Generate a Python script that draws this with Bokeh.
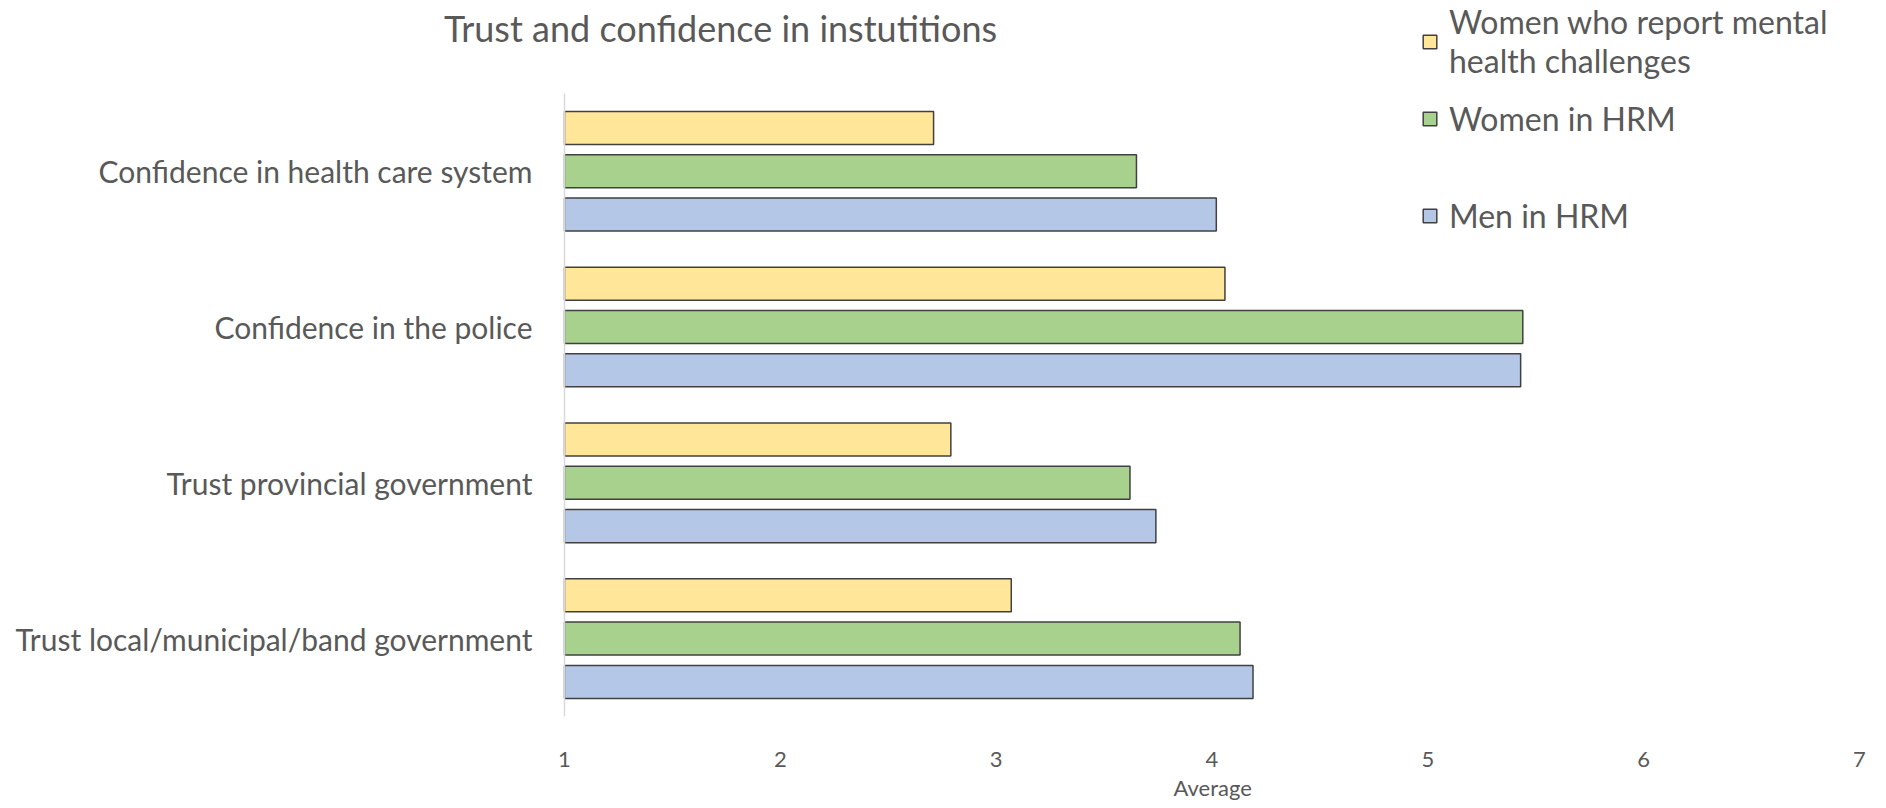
from bokeh.plotting import figure
from bokeh.models import ColumnDataSource, Legend, LegendItem, Label, Range1d, FixedTicker, Title
from bokeh.transform import dodge
from bokeh.embed import file_html
from bokeh.resources import INLINE

# ---- data ----
categories = ["Confidence in health care system", "Confidence in the police",
              "Trust provincial government", "Trust local/municipal/band government"]
women_mental_health = [2.71, 4.06, 2.79, 3.07]
women_hrm = [3.65, 5.44, 3.62, 4.13]
men_hrm = [4.02, 5.43, 3.74, 4.19]
series_labels = ["Women who report mental\nhealth challenges", "Women in HRM", "Men in HRM"]
x_ticks = [1, 2, 3, 4, 5, 6, 7]
title_text = "Trust and confidence in instutitions"
x_label = "Average"

FONT = "Lato"
TXT = "#595959"

n = len(categories)
pos = [n - i - 0.5 for i in range(n)]          # first category at the top
src = ColumnDataSource(dict(cat=categories, pos=pos, wmh=women_mental_health,
                            whrm=women_hrm, mhrm=men_hrm))

# layout (pixels): axis value 1 sits at x=564, value 7 at x=1859
W, H = 1886, 808
AX_LEFT, AX_RIGHT = 564, 1859
x_lo, x_hi = x_ticks[0], x_ticks[-1]
px_per_unit = (AX_RIGHT - AX_LEFT) / (x_hi - x_lo)
x0 = x_lo - AX_LEFT / px_per_unit

p = figure(x_range=Range1d(x0, x_hi), y_range=Range1d(0, 4.596),
           width=W, height=H, output_backend="svg", toolbar_location=None,
           min_border_left=0, min_border_right=W - AX_RIGHT, min_border_top=0, min_border_bottom=92)
p.outline_line_color = None
p.xgrid.grid_line_color = None
p.ygrid.grid_line_color = None

colors = ["#FFE699", "#A9D18E", "#B4C7E7"]
fields = ["wmh", "whrm", "mhrm"]
offsets = [0.278, 0.0, -0.278]
renderers = []
for f, c, off in zip(fields, colors, offsets):
    r = p.hbar(y=dodge("pos", off), left=x_lo, right=f, height=0.212,
               source=src, fill_color=c, line_color="#404040", line_width=1.5)
    renderers.append(r)

# x axis
p.xaxis.ticker = FixedTicker(ticks=x_ticks)
p.xaxis.bounds = (x_lo, x_hi)
p.xaxis.axis_line_color = None
p.xaxis.major_tick_line_color = None
p.xaxis.minor_tick_line_color = None
p.xaxis.major_label_standoff = 29
p.xaxis.major_label_text_font = FONT
p.xaxis.major_label_text_font_size = "22px"
p.xaxis.major_label_text_color = TXT

# axis title, centred under the value axis (1..7); text is ~77px wide
label_w = 77
p.add_layout(Title(text=x_label, align="left", offset=(AX_LEFT + AX_RIGHT) / 2 - label_w / 2,
                   text_font=FONT, text_font_size="22px", text_font_style="normal",
                   text_color=TXT, standoff=4), "below")

# y axis (categories), drawn at x = 1
p.yaxis.fixed_location = x_lo
p.yaxis.ticker = FixedTicker(ticks=pos)
p.yaxis.major_label_overrides = {pv: c for pv, c in zip(pos, categories)}
p.yaxis.bounds = (0, n)
p.yaxis.axis_line_color = "#d9d9d9"
p.yaxis.axis_line_width = 1.5
p.yaxis.major_tick_line_color = None
p.yaxis.minor_tick_line_color = None
p.yaxis.major_label_standoff = 26
p.yaxis.major_label_text_font = FONT
p.yaxis.major_label_text_font_size = "30px"
p.yaxis.major_label_text_color = TXT

# legends (two blocks to mimic the uneven spacing of the original)
LEG_X = 1421
leg_kw = dict(orientation="vertical", label_text_font=FONT, label_text_font_size="32px",
              label_text_color=TXT, label_text_line_height=1.3,
              glyph_width=17, glyph_height=17, label_standoff=11,
              padding=0, margin=0, border_line_color=None, background_fill_alpha=0)
legend_a = Legend(items=[LegendItem(label=series_labels[0], renderers=[renderers[0]])],
                  location=(LEG_X, 636), spacing=0, **leg_kw)
legend_b = Legend(items=[LegendItem(label=lbl, renderers=[r])
                         for lbl, r in zip(series_labels[1:], renderers[1:])],
                  location=(LEG_X, 481), spacing=58, **leg_kw)
p.add_layout(legend_a, "center")
p.add_layout(legend_b, "center")

# chart title
p.add_layout(Label(x=x_lo + (720 - AX_LEFT) / px_per_unit,
                   y=4.596 - 28 / 155.8, text=title_text, text_align="center",
                   text_baseline="alphabetic", text_font=FONT, text_font_size="36px",
                   text_color=TXT))

open("out.html", "w").write(file_html(p, INLINE))
